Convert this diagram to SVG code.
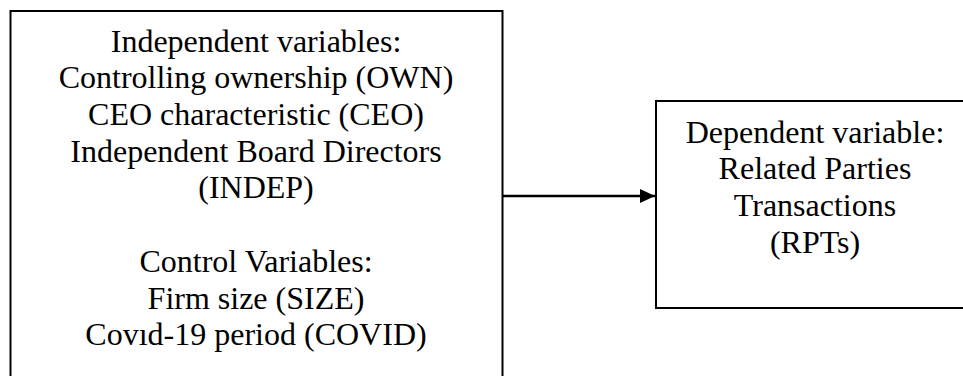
<svg xmlns="http://www.w3.org/2000/svg" width="963" height="376" viewBox="0 0 963 376">
<style>
.box{fill:#fff;stroke:#000;stroke-width:2}
.t{font-family:"Liberation Serif","Times New Roman",serif;font-size:32px;fill:#000;text-anchor:middle}
.c{stroke:#000;stroke-width:2.5;fill:none}
</style>
<defs>
<marker id="ah" markerUnits="userSpaceOnUse" markerWidth="16" markerHeight="16" viewBox="0 0 16 16" refX="15" refY="8" orient="auto">
<path d="M0,1 L15,8 L0,15 Z" fill="#000"/>
</marker>
</defs>
<rect width="963" height="376" fill="#fff"/>
<g id="independent">
<rect class="box" x="10.5" y="11" width="492" height="380"/>
<text class="t" x="256" y="51.7">Independent variables:</text>
<text class="t" x="256" y="88.4">Controlling ownership (OWN)</text>
<text class="t" x="256" y="125">CEO characteristic (CEO)</text>
<text class="t" x="256" y="161.7">Independent Board Directors</text>
<text class="t" x="256" y="198.4">(INDEP)</text>
<text class="t" x="256" y="272">Control Variables:</text>
<text class="t" x="256" y="308.6">Firm size (SIZE)</text>
<text class="t" x="256" y="345.3">Covıd-19 period (COVID)</text>
</g>
<g id="dependent">
<rect class="box" x="656" y="101" width="320" height="207"/>
<text class="t" x="815" y="142.5">Dependent variable:</text>
<text class="t" x="815" y="179.2">Related Parties</text>
<text class="t" x="815" y="215.9">Transactions</text>
<text class="t" x="815" y="252.6">(RPTs)</text>
</g>
<g id="connectors">
<line class="c" x1="503" y1="196" x2="655" y2="196" marker-end="url(#ah)"/>
</g>
</svg>
